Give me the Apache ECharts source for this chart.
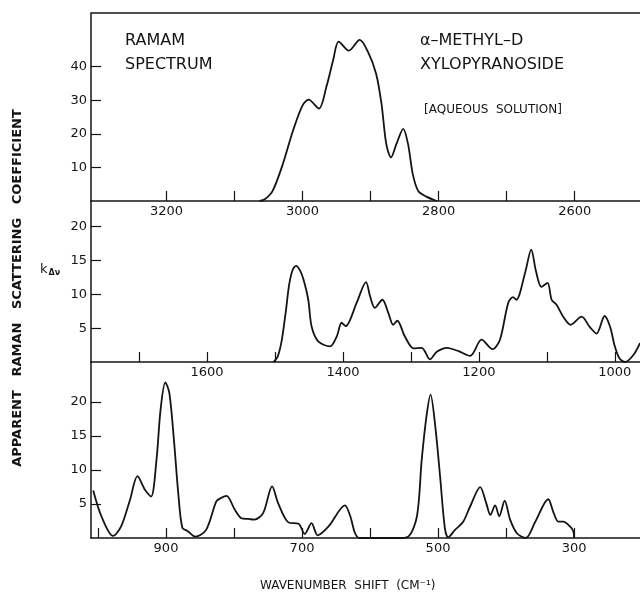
<!DOCTYPE html>
<html>
<head>
<meta charset="utf-8">
<script src="https://cdn.jsdelivr.net/npm/echarts@6/dist/echarts.min.js"></script>
<style>
  html, body { margin: 0; padding: 0; background: #fff; }
  #chart { width: 640px; height: 593px; }
</style>
</head>
<body>
<div id="chart"></div>
<script>
// C-H stretching region (upper panel)
const chShift = [3063, 3055, 3044, 3029, 3014, 3000, 2991, 2976, 2965, 2955, 2947, 2932, 2916, 2904, 2892, 2884, 2877, 2870, 2862, 2852, 2845, 2838, 2830, 2818, 2803];
const chCoeff = [0, 0.6, 3, 11, 21, 28.5, 30.2, 27.5, 34, 42, 47.5, 44.8, 48, 44.5, 38, 29, 17, 13, 17, 21.5, 17, 8, 3, 1.3, 0];

// Fingerprint region 1770-963 (middle panel)
const midShift = [1502, 1496, 1490, 1484, 1479, 1474, 1469, 1463, 1458, 1451, 1446, 1436, 1419, 1409, 1402, 1396, 1380, 1366, 1360, 1353, 1342, 1333, 1326, 1320, 1309, 1296, 1284, 1272, 1262, 1247, 1230, 1213, 1196, 1180, 1169, 1157, 1150, 1145, 1132, 1123, 1116, 1108, 1099, 1093, 1086, 1076, 1065, 1049, 1037, 1027, 1015, 1007, 1000, 993, 985, 973, 963];
const midCoeff = [0, 0.8, 3.2, 7.5, 11.5, 13.6, 14.2, 13.5, 12.2, 9.2, 5.2, 3, 2.3, 3.8, 5.8, 5.3, 8.7, 11.8, 9.7, 8.0, 9.2, 7.2, 5.5, 6.1, 3.8, 2.0, 2.1, 0.4, 1.5, 2.1, 1.6, 0.9, 3.3, 1.9, 3.3, 8.7, 9.6, 9.2, 13.2, 16.6, 13.4, 11.1, 11.7, 9.2, 8.5, 6.7, 5.5, 6.7, 5.2, 4.2, 6.8, 5.2, 2.3, 0.5, 0, 1.0, 2.8];

// Low-frequency region 1010-300 (lower panel)
const lowShift = [1007, 995, 978, 966, 953, 942, 931, 922, 914, 908, 901, 895, 888, 882, 876, 868, 857, 841, 826, 819, 811, 799, 789, 779, 770, 757, 744, 735, 720, 705, 696, 686, 677, 661, 637, 629, 622, 615, 560, 544, 531, 524, 517, 511, 504, 497, 490, 485, 475, 463, 453, 438, 429, 423, 416, 410, 402, 394, 384, 371, 357, 338, 330, 323, 316, 306, 301, 300];
const lowCoeff = [7.0, 3.2, 0.3, 1.7, 5.6, 9.1, 7.1, 6.1, 11.5, 18.9, 22.9, 21.3, 14.0, 6.6, 1.5, 1.0, 0.2, 1.2, 5.4, 5.9, 6.2, 4.2, 2.9, 2.8, 2.7, 3.7, 7.6, 5.1, 2.3, 2.1, 0.6, 2.2, 0.4, 1.7, 4.8, 3.2, 0.7, 0, 0, 0.2, 3.2, 11.5, 17.9, 21.1, 16.4, 9.1, 1.5, 0.1, 1.2, 2.4, 4.6, 7.5, 5.1, 3.4, 4.8, 3.2, 5.5, 2.7, 0.7, 0, 2.4, 5.7, 3.7, 2.4, 2.4, 1.7, 1.0, 0];

// Axis ticks and labels
const chTicks = [3200, 3100, 3000, 2900, 2800, 2700, 2600];
const chLabels = [3200, 3000, 2800, 2600];
const midTicks = [1700, 1600, 1500, 1400, 1300, 1200, 1100, 1000];
const midLabels = [1600, 1400, 1200, 1000];
const lowTicks = [1000, 900, 800, 700, 600, 500, 400, 300];
const lowLabels = [900, 700, 500, 300];
const chYLabels = [10, 20, 30, 40];
const midYLabels = [5, 10, 15, 20];
const lowYLabels = [5, 10, 15, 20];

const INK = '#141414';
const FONT = 'DejaVu Sans';

function zip(xs, ys) { return xs.map((x, i) => [x, ys[i]]); }
const plain = v => String(v);

function xAxis(gridIndex, min, max, ticks, labels) {
  return {
    type: 'value', gridIndex, min, max, inverse: true,
    axisLine: { show: true, onZero: false, lineStyle: { color: INK, width: 1.5 } },
    axisTick: { show: true, inside: true, length: 10, customValues: ticks, lineStyle: { color: INK, width: 1.2 } },
    axisLabel: { show: true, customValues: labels, formatter: plain, margin: 4, color: INK, fontFamily: FONT, fontSize: 13 },
    splitLine: { show: false }
  };
}

function yAxis(gridIndex, max, labels) {
  return {
    type: 'value', gridIndex, min: 0, max,
    axisLine: { show: true, lineStyle: { color: INK, width: 1.5 } },
    axisTick: { show: true, inside: true, length: 10, customValues: labels, lineStyle: { color: INK, width: 1.2 } },
    axisLabel: { show: true, customValues: labels, formatter: plain, margin: 4, color: INK, fontFamily: FONT, fontSize: 13 },
    splitLine: { show: false }
  };
}

function curve(i, xs, ys) {
  return {
    type: 'line', xAxisIndex: i, yAxisIndex: i,
    data: zip(xs, ys), smooth: 0.3, showSymbol: false, symbol: 'none',
    lineStyle: { color: INK, width: 1.8 }, animation: false
  };
}

const chart = echarts.init(document.getElementById('chart'), null, { renderer: 'canvas' });

const option = {
  backgroundColor: '#fff',
  animation: false,
  grid: [
    { left: 91, top: 13, width: 549, height: 188 },
    { left: 91, top: 201, width: 549, height: 161 },
    { left: 91, top: 362, width: 549, height: 176 }
  ],
  xAxis: [
    xAxis(0, 2504, 3311, chTicks, chLabels),
    xAxis(1, 963, 1770.6, midTicks, midLabels),
    xAxis(2, 203, 1010.3, lowTicks, lowLabels)
  ],
  yAxis: [
    yAxis(0, 56, chYLabels),
    yAxis(1, 23.8, midYLabels),
    yAxis(2, 25.9, lowYLabels)
  ],
  series: [
    curve(0, chShift, chCoeff),
    curve(1, midShift, midCoeff),
    curve(2, lowShift, lowCoeff)
  ],
  graphic: [
    { type: 'line', shape: { x1: 91, y1: 13, x2: 640, y2: 13 }, style: { stroke: INK, lineWidth: 1.5 } },
    { type: 'text', left: 125, top: 33, style: { text: 'RAMAM', font: '16px "DejaVu Sans"', fill: INK } },
    { type: 'text', left: 125, top: 57, style: { text: 'SPECTRUM', font: '16px "DejaVu Sans"', fill: INK } },
    { type: 'text', left: 420, top: 33, style: { text: 'α–METHYL–D', font: '16px "DejaVu Sans"', fill: INK } },
    { type: 'text', left: 420, top: 57, style: { text: 'XYLOPYRANOSIDE', font: '16px "DejaVu Sans"', fill: INK } },
    { type: 'text', left: 424, top: 104, style: { text: '[AQUEOUS  SOLUTION]', font: '12px "DejaVu Sans"', fill: INK } },
    {
      type: 'text', x: 18, y: 288, rotation: Math.PI / 2,
      style: { text: 'APPARENT   RAMAN   SCATTERING   COEFFICIENT', font: 'bold 13px "DejaVu Sans"', fill: INK, align: 'center', verticalAlign: 'middle' }
    },
    {
      type: 'text', left: 40, top: 263,
      style: {
        text: '{k|k}{s|Δν}',
        rich: {
          k: { font: '13px "DejaVu Sans"', fill: INK },
          s: { font: 'bold 8px "DejaVu Sans"', fill: INK, padding: [6, 0, 0, 1] }
        }
      }
    },
    { type: 'text', left: 260, top: 580, style: { text: 'WAVENUMBER  SHIFT  (CM⁻¹)', font: '12px "DejaVu Sans"', fill: INK } }
  ]
};

chart.setOption(option);
</script>
</body>
</html>
